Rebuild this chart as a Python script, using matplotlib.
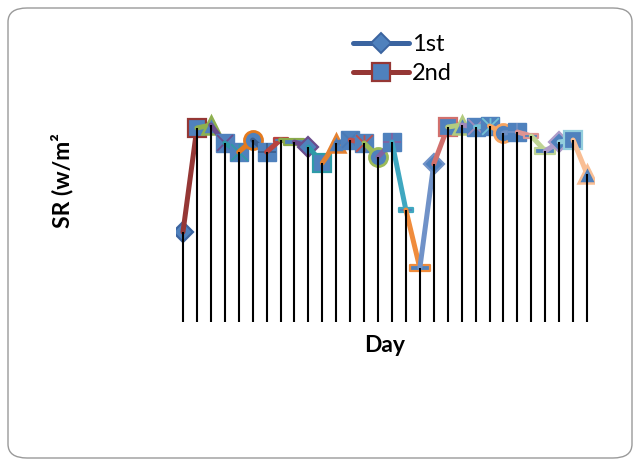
import numpy as np
import matplotlib.pyplot as plt
from matplotlib.lines import Line2D
from matplotlib.patches import FancyBboxPatch
from matplotlib.path import Path

plt.rcParams['font.family'] = ['Lato', 'DejaVu Sans']

# daily solar radiation readings
days = np.arange(1, 31)
sr = [90, 194, 197, 179, 170, 182, 170, 182, 180, 175,
      159, 179, 182, 179, 165, 180, 112, 54, 158, 195,
      197, 195, 196, 189, 190, 186, 171, 180, 182, 148]
legend_labels = ['1st', '2nd']

# one colour per series (office palette and its darker / lighter shades)
series_colors = ['#3B64A0', '#953735', '#8EB04F', '#6B4E8E', '#2E9AA6', '#E47A1E',
                 '#3A5F8F', '#B8433F', '#8AAA4B', '#6A4C8C', '#2E9BA8', '#E58130',
                 '#4A7AB5', '#C0504D', '#9BBB59', '#8064A2', '#3FA7C0', '#F08C3C',
                 '#7092C8', '#D1706D', '#B3CB7F', '#9F8BBB', '#72C1D4', '#F8A561',
                 '#6D8FC4', '#DE9492', '#BFD494', '#AD9CC9', '#93CEDD', '#F9BE94']
marker_cycle = ['D', 's', '^', 'x', '*', 'o', '+', 'short', 'long']
fill = '#4F81BD'

short_dash = Path([(-0.5, -0.16), (0.5, -0.16), (0.5, 0.16), (-0.5, 0.16), (-0.5, -0.16)],
                  [Path.MOVETO, Path.LINETO, Path.LINETO, Path.LINETO, Path.CLOSEPOLY])
star_lines = Path([(-0.5, -0.5), (0.5, 0.5), (-0.5, 0.5), (0.5, -0.5), (0, -0.5), (0, 0.5)],
                  [Path.MOVETO, Path.LINETO, Path.MOVETO, Path.LINETO, Path.MOVETO, Path.LINETO])


def draw_marker(ax, x, y, kind, color, z):
    if kind == 'D':
        ax.plot(x, y, 'D', ms=10.5, mfc=fill, mec=color, mew=1.6, zorder=z)
    elif kind == 's':
        ax.plot(x, y, 's', ms=13, mfc=fill, mec=color, mew=1.6, zorder=z)
    elif kind == '^':
        ax.plot(x, y, '^', ms=13.5, mfc=fill, mec=color, mew=1.8, zorder=z)
    elif kind == 'o':
        ax.plot(x, y, 'o', ms=13, mfc=fill, mec=color, mew=2.0, zorder=z)
    elif kind in ('x', '*', '+'):
        ax.plot(x, y, 's', ms=13, mfc=fill, mec=fill, mew=1.0, zorder=z)
        inner = star_lines if kind == '*' else kind
        ax.plot(x, y, marker=inner, ms=12 if kind != '+' else 12.5, mec=color,
                mew=1.3, ls='none', zorder=z + 0.1)
    elif kind == 'short':
        ax.plot(x, y, marker=short_dash, ms=9.5, mfc=fill, mec=color, mew=1.6,
                ls='none', zorder=z)
    else:
        ax.plot(x, y, marker=short_dash, ms=14.5, mfc=fill, mec=color, mew=1.6,
                ls='none', zorder=z)


fig = plt.figure(figsize=(6.39, 4.63), dpi=100)
ax = fig.add_axes([176 / 639, 1 - 322 / 463, 418 / 639, 230 / 463])

for i in range(len(days)):
    z = 2 + i * 0.5
    if i > 0:
        ax.plot(days[i - 1:i + 1], sr[i - 1:i + 1], color=series_colors[i], lw=3.6,
                solid_capstyle='round', zorder=z)
    draw_marker(ax, days[i], sr[i], marker_cycle[i % 9], series_colors[i], z + 0.2)

# drop lines down to the category axis
ax.vlines(days, 0, sr, colors='black', lw=1.5, zorder=50)

ax.set_xlim(0.5, 30.5)
ax.set_ylim(0, 230)
ax.axis('off')

fig.text(385 / 639, 1 - 345 / 463, 'Day', ha='center', va='center',
         fontsize=16.5, fontweight='bold')
fig.text(62 / 639, 1 - 181 / 463, 'SR (w/m\u00b2', ha='center', va='center',
         rotation=90, fontsize=16.5, fontweight='bold')

handles = [Line2D([], [], color=series_colors[0], lw=3.6, marker='D', ms=10.5,
                  mfc=fill, mec=series_colors[0], mew=1.4, solid_capstyle='round'),
           Line2D([], [], color=series_colors[1], lw=3.6, marker='s', ms=12.5,
                  mfc=fill, mec=series_colors[1], mew=1.6, solid_capstyle='round')]
fig.legend(handles, legend_labels, loc='center left',
           bbox_to_anchor=(341 / 639, 1 - 59 / 463), frameon=False, fontsize=17,
           handlelength=2.4, handletextpad=0.1, labelspacing=0.35, borderpad=0)

# rounded chart border
fig.patches.append(FancyBboxPatch((8 / 639, 5 / 463), 624 / 639, 450 / 463,
                                  boxstyle='round,pad=0,rounding_size=0.03',
                                  transform=fig.transFigure, fill=False,
                                  ec='#9A9A9A', lw=1.0))

fig.savefig('out.png', dpi=100)
